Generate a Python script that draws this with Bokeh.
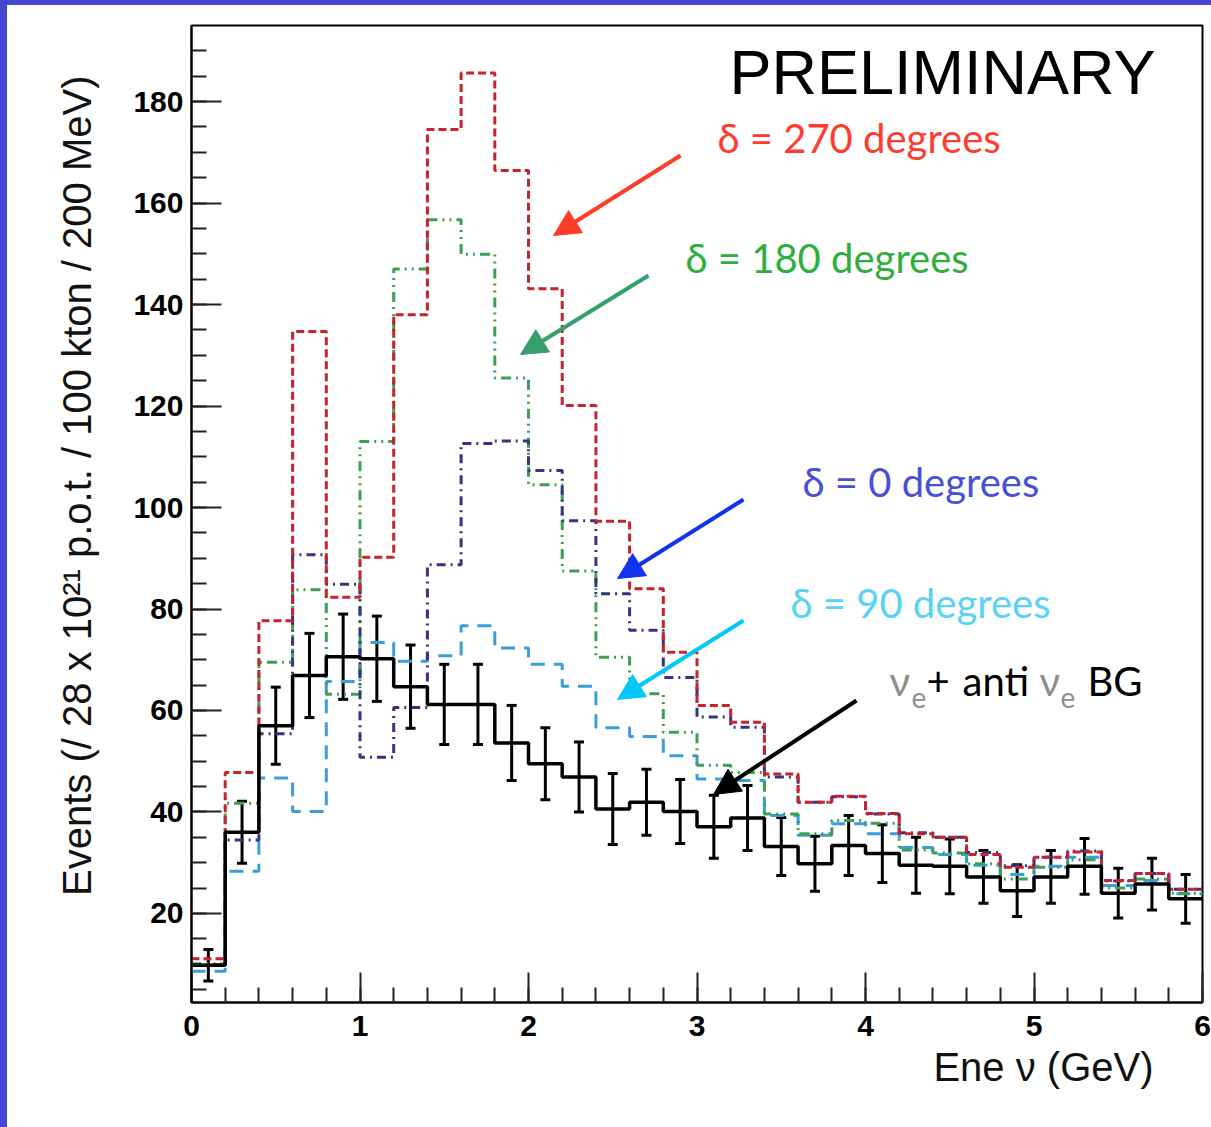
import math
from bokeh.plotting import figure
from bokeh.layouts import column, row
from bokeh.models import (Range1d, FixedTicker, ColumnDataSource, Label, Arrow,
                          NormalHead, Whisker, TeeHead, Title, Spacer)
from bokeh.embed import file_html
from bokeh.resources import INLINE

# ---------------- data ----------------
edges = [0.0, 0.2, 0.4, 0.6, 0.8, 1.0, 1.2, 1.4, 1.6, 1.8, 2.0, 2.2, 2.4, 2.6, 2.8, 3.0,
         3.2, 3.4, 3.6, 3.8, 4.0, 4.2, 4.4, 4.6, 4.8, 5.0, 5.2, 5.4, 5.6, 5.8, 6.0]

delta270 = [11.1, 47.8, 77.7, 134.7, 82.3, 90.2, 138.0, 174.5, 185.6, 166.4, 143.1, 120.1,
            97.3, 84.0, 71.5, 61.0, 57.7, 47.5, 41.9, 43.1, 39.7, 35.7, 35.0, 31.6, 29.1,
            31.1, 32.1, 26.5, 27.9, 24.8]
delta180 = [10.1, 41.7, 69.5, 83.8, 63.2, 113.0, 147.0, 156.7, 149.9, 125.5, 104.5, 87.5,
            70.5, 63.3, 55.7, 49.2, 47.8, 39.6, 35.7, 38.3, 37.8, 32.5, 31.9, 29.8, 26.8,
            29.1, 30.6, 25.0, 26.8, 24.0]
delta0 = [9.9, 34.5, 55.4, 90.7, 84.9, 50.8, 60.6, 88.7, 112.6, 113.1, 107.3, 97.4,
          83.0, 75.8, 66.5, 58.7, 56.7, 46.9, 41.9, 43.0, 39.6, 35.9, 35.0, 32.0, 29.4,
          31.1, 32.3, 26.4, 27.9, 24.8]
delta90 = [8.6, 28.3, 46.7, 40.1, 65.7, 73.4, 69.7, 70.8, 76.7, 72.3, 69.1, 64.8,
           56.6, 54.9, 51.1, 46.5, 46.2, 39.3, 35.4, 37.7, 35.7, 33.0, 31.6, 29.5, 27.7,
           29.3, 31.1, 25.5, 26.5, 23.9]
background = [9.8, 36.0, 57.0, 66.9, 70.6, 70.2, 64.7, 61.2, 61.2, 53.6, 49.5, 46.9,
              40.6, 41.9, 40.1, 37.1, 38.8, 33.2, 29.8, 33.4, 31.8, 29.5, 29.3, 27.2, 24.5,
              27.2, 29.3, 24.0, 25.8, 22.9]
background_err = [3.1, 6.1, 7.6, 8.3, 8.4, 8.4, 8.2, 7.9, 7.9, 7.4, 7.1, 6.9,
                  7.0, 6.5, 6.3, 6.2, 6.4, 5.7, 5.4, 5.9, 5.7, 5.5, 5.4, 5.2, 5.1,
                  5.2, 5.5, 4.9, 5.1, 4.8]

x_ticks = [0, 1, 2, 3, 4, 5, 6]
y_ticks = [20, 40, 60, 80, 100, 120, 140, 160, 180]
y_minor = [5, 10, 15, 20, 25, 30, 35, 40, 45, 50, 55, 60, 65, 70, 75, 80, 85, 90, 95,
           100, 105, 110, 115, 120, 125, 130, 135, 140, 145, 150, 155, 160, 165, 170,
           175, 180, 185, 190]

y_title = "Events (/ 28 x 10\u00b2\u00b9 p.o.t. / 100 kton / 200 MeV)"
x_title = "Ene \u03bd (GeV)"

# ---------------- geometry (page pixels) ----------------
PW, PH = 1211, 1127
BL, BT = 7, 5                      # blue slide border (left / top)
FL, FR, FT, FB = 191, 1202, 25, 1002
X0, X1 = 0.0, 6.0
Y0, Y1 = 2.46, 194.98
W, H = PW - BL, PH - BT            # figure size


def sx(px):
    return X0 + (px - FL) * (X1 - X0) / (FR - FL)


def sy(py):
    return Y1 - (py - FT) * (Y1 - Y0) / (FB - FT)


def tb(py, fs):
    # compensate the renderer's baseline placement for "alphabetic"
    return sy(py - 0.41 * fs)


p = figure(width=W, height=H, x_range=Range1d(X0, X1), y_range=Range1d(Y0, Y1),
           output_backend="svg", toolbar_location=None,
           min_border_left=FL - BL, min_border_right=PW - FR,
           min_border_top=FT - BT, min_border_bottom=PH - FB)
p.xgrid.visible = False
p.ygrid.visible = False
p.background_fill_color = "white"
p.border_fill_color = "white"
p.outline_line_color = "black"
p.outline_line_width = 2
p.outline_line_alpha = 1.0

p.xaxis.ticker = FixedTicker(ticks=x_ticks, minor_ticks=edges)
p.yaxis.ticker = FixedTicker(ticks=y_ticks, minor_ticks=y_minor)
for ax in (p.xaxis[0], p.yaxis[0]):
    ax.major_tick_in = 30
    ax.major_tick_out = 0
    ax.minor_tick_in = 15
    ax.minor_tick_out = 0
    ax.major_tick_line_width = 2
    ax.minor_tick_line_width = 2
    ax.major_tick_line_color = "#222222"
    ax.minor_tick_line_color = "#222222"
    ax.axis_line_color = "black"
    ax.axis_line_width = 2
    ax.major_label_text_font = "Liberation Sans"
    ax.major_label_text_font_style = "bold"
    ax.major_label_text_font_size = "30px"
    ax.major_label_text_color = "black"
p.xaxis.major_label_standoff = 13
p.yaxis.major_label_standoff = 8

# axis titles as side titles (ROOT style placement)
p.add_layout(Title(text=y_title, align="right", offset=50, vertical_align="bottom",
                   standoff=64, text_font="Liberation Sans", text_font_style="normal",
                   text_font_size="40px", text_color="#111111"), "left")
p.add_layout(Title(text=x_title, align="right", offset=49, vertical_align="top",
                   standoff=12, text_font="Liberation Sans", text_font_style="normal",
                   text_font_size="40px", text_color="#111111"), "below")

# ---------------- histograms ----------------
src = ColumnDataSource(dict(
    x=edges,
    d270=delta270 + [delta270[-1]],
    d180=delta180 + [delta180[-1]],
    d0=delta0 + [delta0[-1]],
    d90=delta90 + [delta90[-1]],
    bg=background + [background[-1]],
))

p.step("x", "d90", source=src, mode="after", line_color="#3a9fd8", line_width=3,
       line_dash="14 9")
p.step("x", "d180", source=src, mode="after", line_color="#3f9e55", line_width=3,
       line_dash="10 5 2 5 2 5")
p.step("x", "d0", source=src, mode="after", line_color="#34347f", line_width=3,
       line_dash="9 5 2 5")
p.step("x", "d270", source=src, mode="after", line_color="#c8222c", line_width=3,
       line_dash="8 4")
p.step("x", "bg", source=src, mode="after", line_color="black", line_width=3.5)

centers = [(edges[i] + edges[i + 1]) / 2 for i in range(len(background))]
err_src = ColumnDataSource(dict(
    x=centers,
    upper=[v + e for v, e in zip(background, background_err)],
    lower=[v - e for v, e in zip(background, background_err)],
))
p.add_layout(Whisker(source=err_src, base="x", upper="upper", lower="lower",
                     dimension="height", line_color="black", line_width=3,
                     upper_head=TeeHead(size=10, line_width=3, line_color="black"),
                     lower_head=TeeHead(size=10, line_width=3, line_color="black")))

# ---------------- annotations ----------------
p.add_layout(Label(x=sx(729), y=tb(97, 63), text="PRELIMINARY", text_align="left",
                   text_baseline="alphabetic", text_font="Liberation Sans",
                   text_font_size="63px", text_color="black"))

ANN = "Lato"
labels = [
    ("\u03b4 = 270 degrees", 717, 154, "#ff3b30"),
    ("\u03b4 = 180 degrees", 685, 274, "#2eae3c"),
    ("\u03b4 = 0 degrees", 802, 498, "#4a50d6"),
    ("\u03b4 = 90 degrees", 790, 619, "#5ad2f8"),
]
for txt, lx, ly, col in labels:
    p.add_layout(Label(x=sx(lx), y=tb(ly, 40), text=txt, text_align="left",
                       text_baseline="alphabetic", text_font=ANN,
                       text_font_size="40px", text_color=col))

GRAY = "#8e8e8e"
pieces = [
    ("\u03bd", 889, 697, GRAY, 40),
    ("e", 911, 708, GRAY, 28),
    ("+", 926, 697, "black", 40),
    ("anti", 962, 697, "black", 40),
    ("\u03bd", 1039, 697, GRAY, 40),
    ("e", 1060, 708, GRAY, 28),
    ("BG", 1087, 697, "black", 40),
]
for txt, lx, ly, col, fs in pieces:
    p.add_layout(Label(x=sx(lx), y=tb(ly, fs), text=txt, text_align="left",
                       text_baseline="alphabetic", text_font=ANN,
                       text_font_size=f"{fs}px", text_color=col))

arrows = [
    ((680, 155), (553, 235), "#ff3b2a"),
    ((648, 275), (520, 354), "#36a06c"),
    ((743, 499), (617, 578), "#1233ee"),
    ((743, 620), (617, 699), "#00c8f8"),
    ((856, 700), (713, 794), "black"),
]
for (x0, y0), (x1, y1), col in arrows:
    p.add_layout(Arrow(x_start=sx(x0), y_start=sy(y0), x_end=sx(x1), y_end=sy(y1),
                       line_color=col, line_width=4,
                       end=NormalHead(size=26, fill_color=col, line_color=col, line_width=1)))

# ---------------- blue slide border around the figure ----------------
BLUE = "#4646d2"
top_strip = Spacer(width=PW, height=BT, styles={"background-color": BLUE})
left_strip = Spacer(width=BL, height=H, styles={"background-color": BLUE})
page = column(top_strip, row(left_strip, p, spacing=0), spacing=0)

open("out.html", "w").write(file_html(page, INLINE))
